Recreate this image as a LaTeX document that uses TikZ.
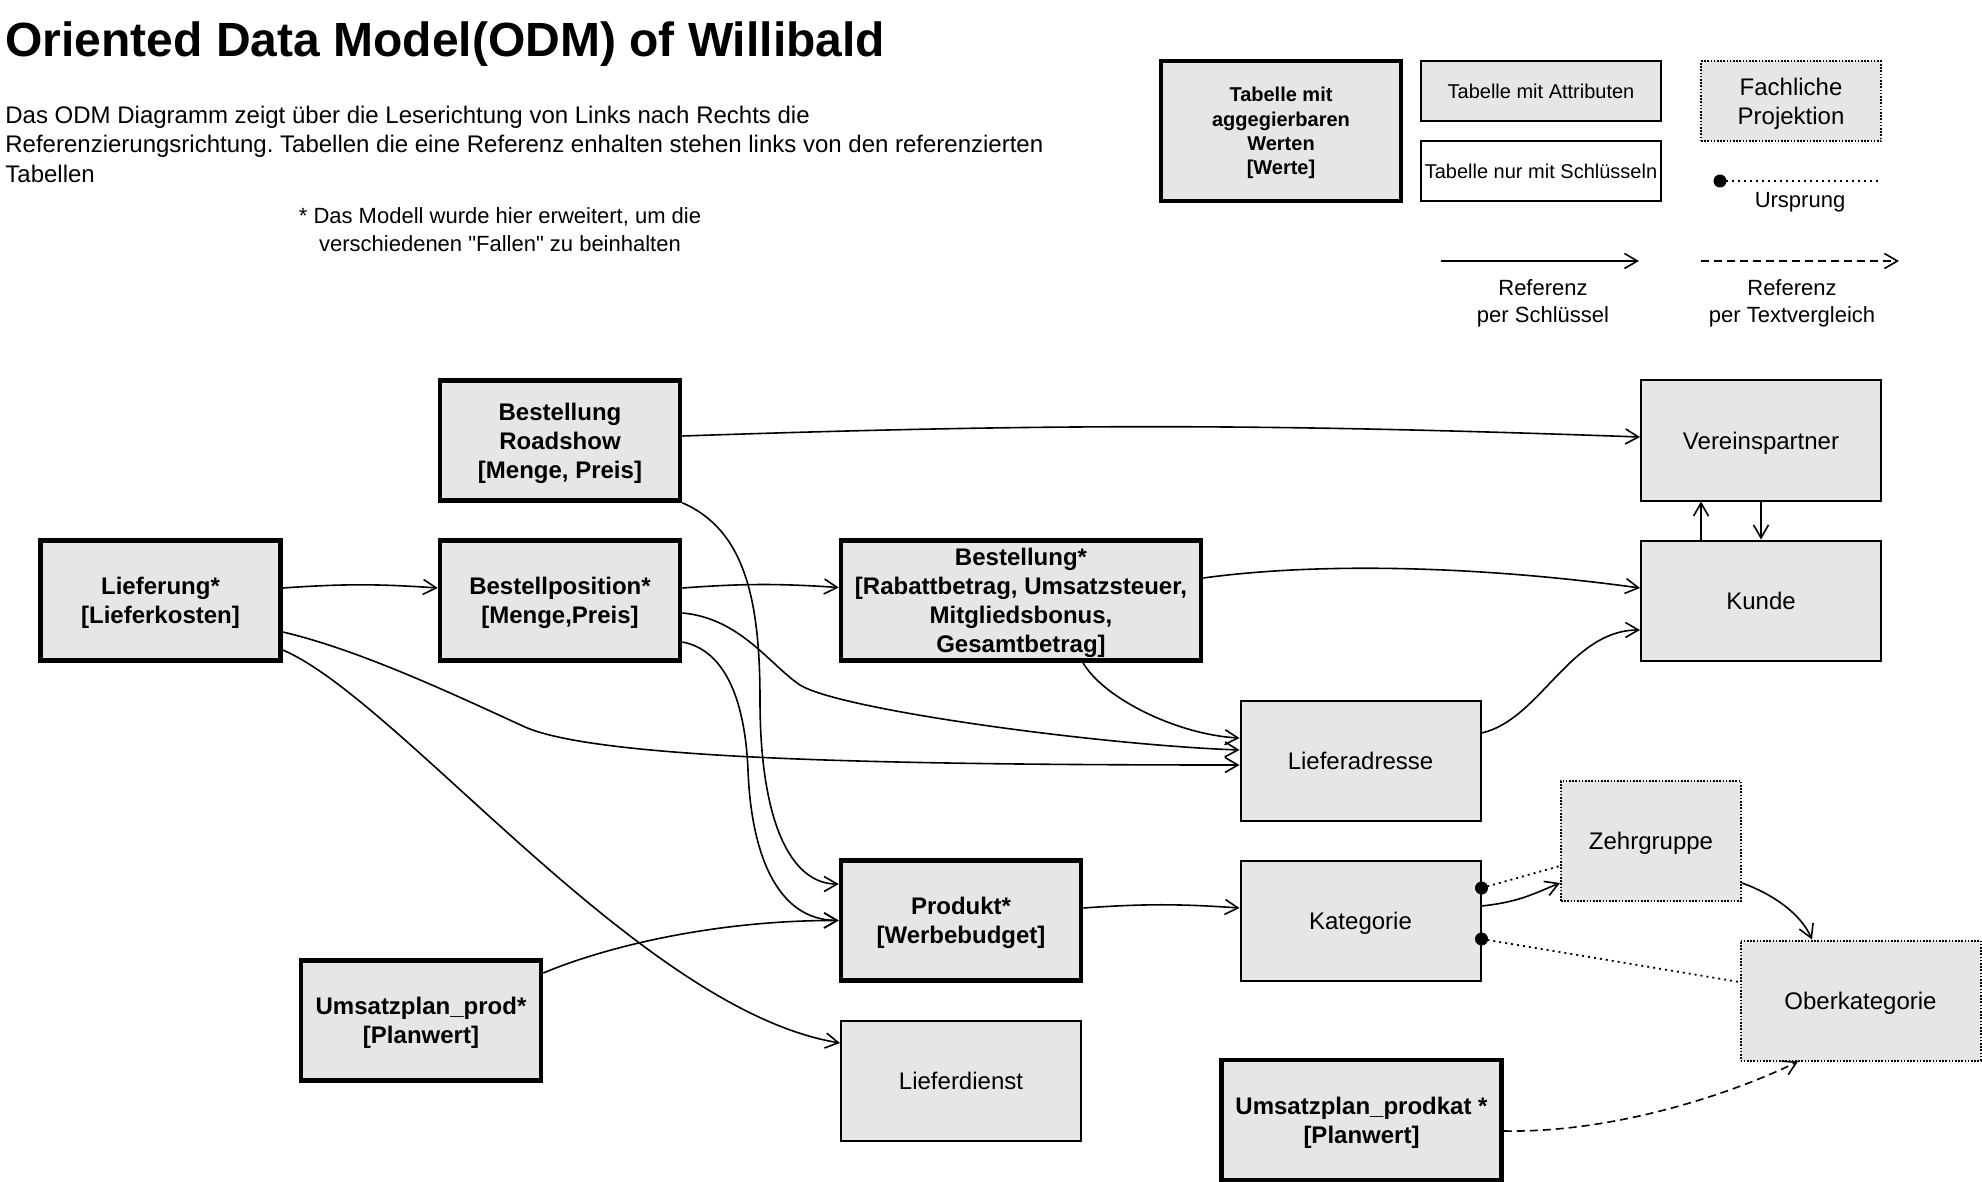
\documentclass[tikz,border=0pt]{standalone}
\usepackage{fontspec}
\setmainfont{Liberation Sans}[Ligatures=TeXOff]
\usetikzlibrary{arrows.meta,calc}
\definecolor{boxfill}{HTML}{E6E6E6}
\frenchspacing
\begin{document}
\begin{tikzpicture}[x=0.5pt,y=-0.5pt,
  basebox/.style={draw, fill=boxfill, align=center, inner sep=0pt, text depth=0pt, minimum width=120pt, minimum height=60pt, font=\fontsize{12}{14.5}\selectfont},
  valbox/.style={basebox, line width=2.3pt, font=\bfseries\fontsize{12}{14.5}\selectfont},
  attrbox/.style={basebox, line width=1pt},
  projbox/.style={basebox, line width=1pt, dash pattern=on 0.8pt off 0.8pt},
  arr/.style={line width=0.8pt, -{Straight Barb[length=6.5pt,width=7.5pt,line width=0.8pt]}},
  dasharr/.style={arr, dash pattern=on 4pt off 2.5pt},
  origline/.style={line width=0.9pt, dash pattern=on 1pt off 2pt},
  txt/.style={inner sep=0pt, font=\fontsize{12}{14.5}\selectfont},
  smalltxt/.style={inner sep=0pt, font=\fontsize{11}{13.5}\selectfont}
]
\useasboundingbox (0,0) rectangle (1982,1182);

% ---------- header texts ----------
\node[inner sep=0pt, anchor=base west, font=\bfseries\fontsize{24}{28}\selectfont] (title) at (5,57) {Oriented Data Model(ODM) of Willibald};
\node[txt, anchor=base west] (p1) at (5,124) {Das ODM Diagramm zeigt über die Leserichtung von Links nach Rechts die};
\node[txt, anchor=base west] (p2) at (5,153) {Referenzierungsrichtung. Tabellen die eine Referenz enhalten stehen links von den referenzierten};
\node[txt, anchor=base west] (p3) at (5,183) {Tabellen};
\node[smalltxt, anchor=base] (n1) at (500,224) {* Das Modell wurde hier erweitert, um die};
\node[smalltxt, anchor=base] (n2) at (500,252) {verschiedenen "Fallen" zu beinhalten};

% ---------- legend ----------
\node[valbox, minimum height=70pt, font=\bfseries\fontsize{10}{12.2}\selectfont] (lwerte) at (1281,131) {Tabelle mit\\aggegierbaren\\Werten\\{[}Werte{]}};
\node[attrbox, minimum height=30pt, font=\fontsize{10}{12}\selectfont] (lattr) at (1541,91) {Tabelle mit Attributen};
\node[attrbox, fill=white, minimum height=30pt, font=\fontsize{10}{12}\selectfont] (lschl) at (1541,171) {Tabelle nur mit Schlüsseln};
\node[projbox, minimum width=90pt, minimum height=40pt] (lfach) at (1791,101.5) {Fachliche\\Projektion};

\coordinate (lo1) at (1720,181);
\coordinate (lo2) at (1881,181);
\draw[origline] (lo1) -- (lo2);
\fill (lo1) circle[radius=3.25pt];
\node[smalltxt, anchor=base] (lursp) at (1800,208) {Ursprung};

\coordinate (la1) at (1441,261);
\coordinate (la2) at (1639,261);
\draw[arr] (la1) -- (la2);
\node[smalltxt, anchor=base] (lr1a) at (1543,296) {Referenz};
\node[smalltxt, anchor=base] (lr1b) at (1543,323) {per Schlüssel};

\coordinate (lb1) at (1701,261);
\coordinate (lb2) at (1899,261);
\draw[dasharr] (lb1) -- (lb2);
\node[smalltxt, anchor=base] (lr2a) at (1792,296) {Referenz};
\node[smalltxt, anchor=base] (lr2b) at (1792,323) {per Textvergleich};

% ---------- tables ----------
\node[valbox] (roadshow) at (560,440.5) {Bestellung\\Roadshow\\{[}Menge, Preis{]}};
\node[attrbox] (verein) at (1761,440.5) {Vereinspartner};
\node[valbox] (lief) at (160.5,600.5) {Lieferung*\\{[}Lieferkosten{]}};
\node[valbox] (bestpos) at (560,600.5) {Bestellposition*\\{[}Menge,Preis{]}};
\node[valbox, minimum width=180pt] (bestellung) at (1021,600.5) {Bestellung*\\{[}Rabattbetrag, Umsatzsteuer,\\Mitgliedsbonus,\\Gesamtbetrag{]}};
\node[attrbox] (kunde) at (1761,600.5) {Kunde};
\node[attrbox] (liefadr) at (1360.5,760.5) {Lieferadresse};
\node[projbox, minimum width=90pt] (zehr) at (1651,841) {Zehrgruppe};
\node[valbox] (produkt) at (961,920.5) {Produkt*\\{[}Werbebudget{]}};
\node[attrbox] (kategorie) at (1360.5,920.5) {Kategorie};
\node[valbox] (uprod) at (421,1020.5) {Umsatzplan\_prod*\\{[}Planwert{]}};
\node[projbox] (oberkat) at (1860.5,1000.5) {Oberkategorie};
\node[attrbox] (liefdienst) at (961,1080.5) {Lieferdienst};
\node[valbox, minimum width=140pt] (uprodkat) at (1361.5,1120) {Umsatzplan\_prodkat *\\{[}Planwert{]}};

% ---------- references ----------
\draw[arr] ([yshift=2.25pt]roadshow.east) to[bend left=2] ([yshift=1.75pt]verein.west);
\draw[arr] (roadshow.south east) .. controls (745,530) and (760,600) .. (760,700)
  .. controls (760,820) and (790,884) .. ([yshift=18.25pt]produkt.west);
\draw[arr] ([yshift=6.25pt]lief.east) to[bend left=4] ([yshift=6.25pt]bestpos.west);
\draw[arr] ([yshift=6.25pt]bestpos.east) to[bend left=4] ([yshift=6.5pt]bestellung.west);
\draw[arr] ([yshift=11.25pt]bestellung.east) .. controls (1320,562) and (1480,566) .. ([yshift=6.25pt]kunde.west);
\draw[arr] ([yshift=13.75pt]liefadr.east) .. controls (1540,720) and (1570,630) .. ([yshift=-14.75pt]kunde.west);
\draw[arr] ([xshift=-30pt]kunde.north) -- ([xshift=-30pt]verein.south);
\draw[arr] (verein.south) -- (kunde.north);
\draw[arr] ([yshift=-6.25pt]bestpos.east) .. controls (740,618) and (770,665) .. (800,685)
  .. controls (840,710) and (1100,745) .. ([yshift=5.25pt]liefadr.west);
\draw[arr] ([xshift=31pt]bestellung.south) .. controls (1105,700) and (1180,735) .. ([yshift=11.25pt]liefadr.west);
\draw[arr] ([yshift=-15.75pt]lief.east) .. controls (360,650) and (455,695) .. (525,727)
  .. controls (600,760) and (900,765) .. ([yshift=-2.25pt]liefadr.west);
\draw[arr] ([yshift=-24.75pt]lief.east) .. controls (400,700) and (640,1010) .. ([yshift=18.75pt]liefdienst.west);
\draw[arr] ([yshift=-20.75pt]bestpos.east) .. controls (725,650) and (745,700) .. (748,770)
  .. controls (751,850) and (775,920) .. (produkt.west);
\draw[arr] ([yshift=23.75pt]uprod.east) .. controls (610,945) and (720,920) .. (produkt.west);
\draw[arr] ([yshift=6.25pt]produkt.east) to[bend left=4] ([yshift=6.25pt]kategorie.west);
\draw[arr] ([yshift=7.25pt]kategorie.east) .. controls (1520,902) and (1535,893) .. ([yshift=-21pt]zehr.west);
\draw[arr] ([yshift=-21pt]zehr.east) .. controls (1770,893) and (1800,912) .. ([xshift=-24.25pt]oberkat.north);
\draw[dasharr] ([yshift=-5.5pt]uprodkat.east) .. controls (1620,1133) and (1740,1090) .. ([xshift=-31.25pt]oberkat.south);

% ---------- origins ----------
\coordinate (o1) at ([yshift=16.25pt]kategorie.east);
\coordinate (o2) at ([yshift=-9.25pt]kategorie.east);
\draw[origline] (o1) -- ([yshift=-12.5pt]zehr.west);
\draw[origline] (o2) -- ([yshift=9.25pt]oberkat.west);
\fill (o1) circle[radius=3.25pt];
\fill (o2) circle[radius=3.25pt];
\end{tikzpicture}
\end{document}
